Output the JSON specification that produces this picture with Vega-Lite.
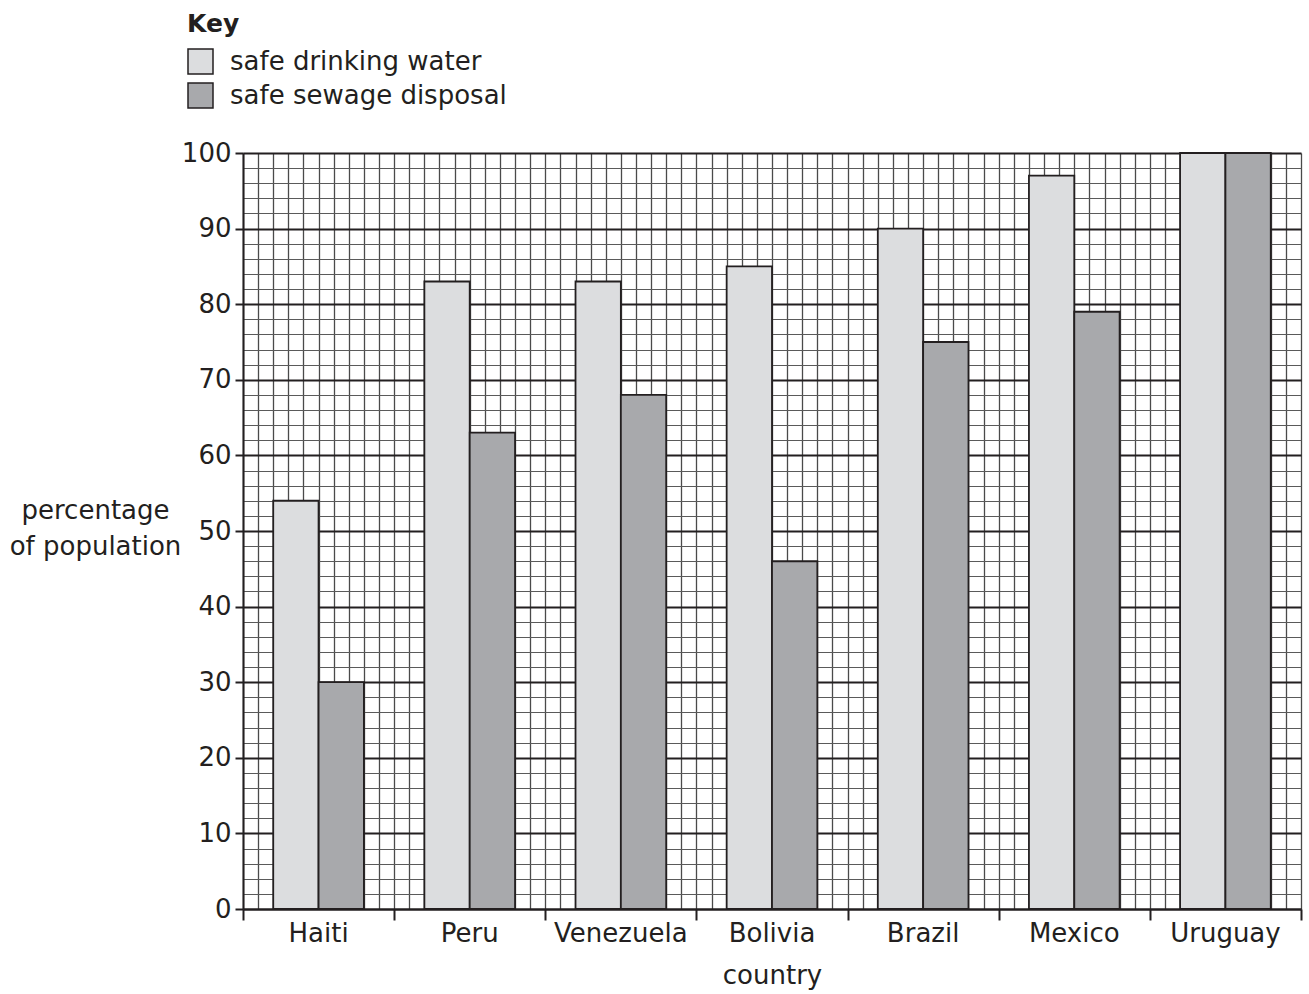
{
  "$schema": "https://vega.github.io/schema/vega-lite/v6.json",
  "width": 1058,
  "height": 756,
  "autosize": {"type": "none"},
  "padding": {"left": 243, "top": 153, "right": 8, "bottom": 85},
  "background": "white",
  "config": {
    "font": "DejaVu Sans",
    "view": {"stroke": null},
    "axis": {"labelColor": "#231f20", "titleColor": "#231f20", "titleFontWeight": "normal"}
  },
  "data": {
    "values": [
      {"country": "Haiti", "series": "safe drinking water", "value": 54},
      {"country": "Haiti", "series": "safe sewage disposal", "value": 30},
      {"country": "Peru", "series": "safe drinking water", "value": 83},
      {"country": "Peru", "series": "safe sewage disposal", "value": 63},
      {"country": "Venezuela", "series": "safe drinking water", "value": 83},
      {"country": "Venezuela", "series": "safe sewage disposal", "value": 68},
      {"country": "Bolivia", "series": "safe drinking water", "value": 85},
      {"country": "Bolivia", "series": "safe sewage disposal", "value": 46},
      {"country": "Brazil", "series": "safe drinking water", "value": 90},
      {"country": "Brazil", "series": "safe sewage disposal", "value": 75},
      {"country": "Mexico", "series": "safe drinking water", "value": 97},
      {"country": "Mexico", "series": "safe sewage disposal", "value": 79},
      {"country": "Uruguay", "series": "safe drinking water", "value": 100},
      {"country": "Uruguay", "series": "safe sewage disposal", "value": 100}
    ]
  },
  "layer": [
    {
      "mark": {"type": "rule", "opacity": 0},
      "encoding": {
        "x": {
          "datum": 0,
          "type": "quantitative",
          "scale": {"domain": [0, 70], "nice": false, "zero": false},
          "axis": {
            "orient": "bottom",
            "values": [0,1,2,3,4,5,6,7,8,9,10,11,12,13,14,15,16,17,18,19,20,21,22,23,24,25,26,27,28,29,30,31,32,33,34,35,36,37,38,39,40,41,42,43,44,45,46,47,48,49,50,51,52,53,54,55,56,57,58,59,60,61,62,63,64,65,66,67,68,69,70],
            "grid": true,
            "gridColor": "#4a4a4a",
            "gridWidth": 1.3,
            "labels": false,
            "domain": false,
            "title": null,
            "ticks": true,
            "tickSize": 11,
            "tickWidth": 2,
            "tickColor": "#231f20",
            "tickOpacity": {"condition": {"test": "datum.value % 10 === 0", "value": 1}, "value": 0}
          }
        }
      }
    },
    {
      "mark": {"type": "bar", "stroke": "#231f20", "strokeWidth": 1.8},
      "encoding": {
        "x": {
          "field": "country",
          "type": "nominal",
          "sort": ["Haiti", "Peru", "Venezuela", "Bolivia", "Brazil", "Mexico", "Uruguay"],
          "scale": {"paddingInner": 0, "paddingOuter": 0},
          "axis": {
            "orient": "bottom",
            "labelAngle": 0,
            "labelFontSize": 26,
            "labelPadding": 11,
            "labelBaseline": "top",
            "labelLimit": 0,
            "ticks": false,
            "tickSize": 0,
            "domain": true,
            "domainColor": "#231f20",
            "domainWidth": 2,
            "grid": false,
            "title": "country",
            "titleFontSize": 26,
            "titleBaseline": "alphabetic",
            "titleY": 74,
            "titleX": 529
          }
        },
        "xOffset": {
          "field": "series",
          "type": "nominal",
          "sort": ["safe drinking water", "safe sewage disposal"],
          "scale": {"paddingInner": 0, "paddingOuter": 0.6667}
        },
        "y": {
          "field": "value",
          "type": "quantitative",
          "scale": {"domain": [0, 100], "nice": false},
          "axis": {
            "values": [0,2,4,6,8,10,12,14,16,18,20,22,24,26,28,30,32,34,36,38,40,42,44,46,48,50,52,54,56,58,60,62,64,66,68,70,72,74,76,78,80,82,84,86,88,90,92,94,96,98,100],
            "labelExpr": "datum.value % 10 === 0 ? datum.label : ''",
            "labelFontSize": 26,
            "labelPadding": 4,
            "tickSize": 8,
            "tickWidth": 2,
            "tickColor": "#231f20",
            "tickOpacity": {"condition": {"test": "datum.value % 10 === 0", "value": 1}, "value": 0},
            "grid": true,
            "gridColor": {"condition": {"test": "datum.value % 10 === 0", "value": "#231f20"}, "value": "#5a5a5a"},
            "gridWidth": {"condition": {"test": "datum.value % 10 === 0", "value": 2}, "value": 1.2},
            "domain": true,
            "domainColor": "#231f20",
            "domainWidth": 2,
            "title": ["percentage", "of population"],
            "titleFontSize": 26,
            "titleAngle": 0,
            "titleAlign": "center",
            "titleBaseline": "top",
            "titleLineHeight": 36,
            "titleX": -148,
            "titleY": 344
          }
        },
        "color": {
          "field": "series",
          "type": "nominal",
          "scale": {"domain": ["safe drinking water", "safe sewage disposal"], "range": ["#dcdddf", "#a8a9ac"]},
          "legend": {
            "title": "Key",
            "titleFontSize": 25,
            "titleFontWeight": "bold",
            "titleColor": "#231f20",
            "titlePadding": 11,
            "labelFontSize": 26,
            "labelColor": "#231f20",
            "labelOffset": 16,
            "labelLimit": 0,
            "symbolType": "square",
            "symbolSize": 625,
            "symbolStrokeColor": "#231f20",
            "symbolStrokeWidth": 1.5,
            "symbolOpacity": 1,
            "rowPadding": 3,
            "padding": 0,
            "orient": "none",
            "legendX": -56,
            "legendY": -141
          }
        }
      }
    }
  ],
  "resolve": {"scale": {"x": "independent"}, "axis": {"x": "independent"}}
}
